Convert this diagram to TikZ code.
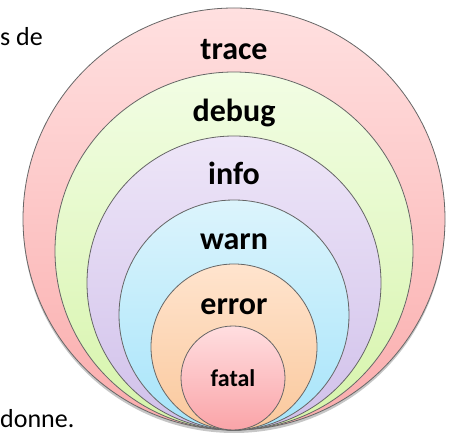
\documentclass[tikz,border=0pt]{standalone}
\usepackage{fontspec}
\setmainfont{Carlito}
\usetikzlibrary{positioning,shadings,shadows}

\definecolor{traceTop}{RGB}{255,224,224}
\definecolor{traceBot}{RGB}{250,172,172}
\definecolor{debugTop}{RGB}{242,253,228}
\definecolor{debugBot}{RGB}{214,244,170}
\definecolor{infoTop}{RGB}{238,230,248}
\definecolor{infoBot}{RGB}{208,192,234}
\definecolor{warnTop}{RGB}{220,244,252}
\definecolor{warnBot}{RGB}{166,228,250}
\definecolor{errorTop}{RGB}{255,228,206}
\definecolor{errorBot}{RGB}{250,200,156}
\definecolor{fatalTop}{RGB}{255,222,224}
\definecolor{fatalBot}{RGB}{250,164,168}

\begin{document}
\begin{tikzpicture}[x=1pt,y=1pt,
   level/.style={draw=black!60,line width=0.8pt,circle,inner sep=0pt},
   lvltext/.style={anchor=base,font=\fontsize{32}{36}\selectfont\bfseries},
   bodytext/.style={anchor=base west,inner sep=0pt,font=\fontsize{26}{30}\selectfont}]

\useasboundingbox (0,0) rectangle (452,436);

% nested levels, all touching at the bottom
\node[level,minimum size=422pt,top color=traceTop,bottom color=traceBot,
      drop shadow={shadow xshift=0pt,shadow yshift=-3pt,opacity=0.45}] (trace) at (234,217) {};
\node[level,minimum size=358pt,top color=debugTop,bottom color=debugBot] (debug) at (234,185) {};
\node[level,minimum size=294pt,top color=infoTop,bottom color=infoBot] (info) at (234,153) {};
\node[level,minimum size=230pt,top color=warnTop,bottom color=warnBot] (warn) at (234,121) {};
\node[level,minimum size=166pt,top color=errorTop,bottom color=errorBot] (error) at (234,89) {};
\node[level,minimum size=104pt,top color=fatalTop,bottom color=fatalBot] (fatal) at (233,58) {};

% level names
\node[lvltext] (traceName) at (234,376) {trace};
\node[lvltext] (debugName) at (234,314) {debug};
\node[lvltext] (infoName) at (234,251) {info};
\node[lvltext] (warnName) at (234,186) {warn};
\node[lvltext] (errorName) at (234,121) {error};
\node[lvltext,font=\fontsize{24}{28}\selectfont\bfseries] (fatalName) at (233,49) {fatal};

% text of the page around the figure
\node[bodytext] (textTop) at (0,390) {s de};
\node[bodytext] (textBot) at (0,9) {donne.};

\end{tikzpicture}
\end{document}
